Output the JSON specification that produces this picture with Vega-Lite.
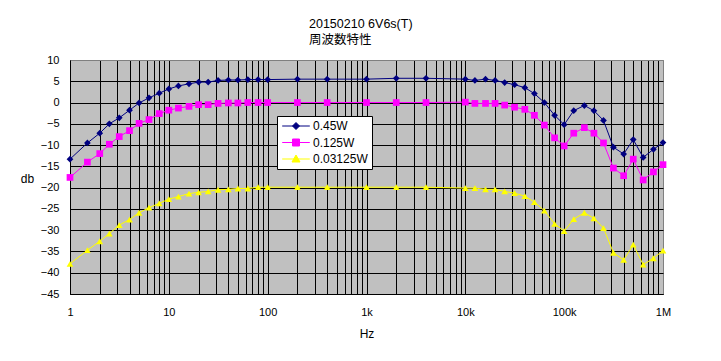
{
"$schema": "https://vega.github.io/schema/vega-lite/v6.json",
"width": 593, "height": 234,
"autosize": {"type": "none"},
"padding": {"left": 70, "top": 60, "right": 58, "bottom": 67},
"background": "white",
"title": {"text": ["20150210 6V6s(T)", "周波数特性"], "fontSize": 12.5, "font": "Liberation Sans, Noto Sans CJK JP", "fontWeight": "normal", "anchor": "middle", "align": "left", "frame": "group", "offset": 8, "lineHeight": 15.5, "dx": -57.5, "color": "black"},
"config": {"view": {"fill": "#C0C0C0", "stroke": "#808080", "strokeWidth": 1}, "font": "Liberation Sans"},
"resolve": {"legend": {"color": "independent", "shape": "independent"}},
"data": {"values": [
{"f":1,"db":-13.3,"s":"0.45W"},{"f":1.5,"db":-9.5,"s":"0.45W"},{"f":2,"db":-7.2,"s":"0.45W"},{"f":2.5,"db":-5.0,"s":"0.45W"},{"f":3.15,"db":-3.6,"s":"0.45W"},{"f":4,"db":-1.8,"s":"0.45W"},{"f":5,"db":-0.1,"s":"0.45W"},{"f":6.3,"db":1.1,"s":"0.45W"},{"f":8,"db":2.2,"s":"0.45W"},{"f":10,"db":3.2,"s":"0.45W"},{"f":12.5,"db":3.9,"s":"0.45W"},{"f":16,"db":4.4,"s":"0.45W"},{"f":20,"db":4.8,"s":"0.45W"},{"f":25,"db":4.8,"s":"0.45W"},{"f":31.5,"db":5.2,"s":"0.45W"},{"f":40,"db":5.3,"s":"0.45W"},{"f":50,"db":5.3,"s":"0.45W"},{"f":63,"db":5.4,"s":"0.45W"},{"f":80,"db":5.4,"s":"0.45W"},{"f":100,"db":5.4,"s":"0.45W"},
{"f":200,"db":5.5,"s":"0.45W"},{"f":400,"db":5.5,"s":"0.45W"},{"f":1000,"db":5.5,"s":"0.45W"},{"f":2000,"db":5.7,"s":"0.45W"},{"f":4000,"db":5.7,"s":"0.45W"},
{"f":10000,"db":5.5,"s":"0.45W"},{"f":12500,"db":5.2,"s":"0.45W"},{"f":16000,"db":5.5,"s":"0.45W"},{"f":20000,"db":5.2,"s":"0.45W"},{"f":25000,"db":4.7,"s":"0.45W"},{"f":31500,"db":4.2,"s":"0.45W"},{"f":40000,"db":3.5,"s":"0.45W"},{"f":50000,"db":2.1,"s":"0.45W"},{"f":63000,"db":0,"s":"0.45W"},{"f":80000,"db":-3.0,"s":"0.45W"},{"f":100000,"db":-5.2,"s":"0.45W"},{"f":125000,"db":-1.9,"s":"0.45W"},{"f":160000,"db":-0.7,"s":"0.45W"},{"f":200000,"db":-1.9,"s":"0.45W"},{"f":250000,"db":-4.2,"s":"0.45W"},{"f":315000,"db":-10.5,"s":"0.45W"},{"f":400000,"db":-12.1,"s":"0.45W"},{"f":500000,"db":-8.7,"s":"0.45W"},{"f":630000,"db":-12.9,"s":"0.45W"},{"f":800000,"db":-11.0,"s":"0.45W"},{"f":1000000,"db":-9.4,"s":"0.45W"},
{"f":1,"db":-17.6,"s":"0.125W"},{"f":1.5,"db":-14.0,"s":"0.125W"},{"f":2,"db":-12.0,"s":"0.125W"},{"f":2.5,"db":-9.8,"s":"0.125W"},{"f":3.15,"db":-8.0,"s":"0.125W"},{"f":4,"db":-6.6,"s":"0.125W"},{"f":5,"db":-4.9,"s":"0.125W"},{"f":6.3,"db":-4.0,"s":"0.125W"},{"f":8,"db":-2.6,"s":"0.125W"},{"f":10,"db":-1.8,"s":"0.125W"},{"f":12.5,"db":-1.3,"s":"0.125W"},{"f":16,"db":-0.9,"s":"0.125W"},{"f":20,"db":-0.5,"s":"0.125W"},{"f":25,"db":-0.5,"s":"0.125W"},{"f":31.5,"db":-0.2,"s":"0.125W"},{"f":40,"db":-0.1,"s":"0.125W"},{"f":50,"db":-0.1,"s":"0.125W"},{"f":63,"db":0,"s":"0.125W"},{"f":80,"db":0,"s":"0.125W"},{"f":100,"db":0,"s":"0.125W"},
{"f":200,"db":0,"s":"0.125W"},{"f":400,"db":0,"s":"0.125W"},{"f":1000,"db":0,"s":"0.125W"},{"f":2000,"db":0,"s":"0.125W"},{"f":4000,"db":0,"s":"0.125W"},
{"f":10000,"db":0.1,"s":"0.125W"},{"f":12500,"db":-0.2,"s":"0.125W"},{"f":16000,"db":-0.2,"s":"0.125W"},{"f":20000,"db":-0.2,"s":"0.125W"},{"f":25000,"db":-0.6,"s":"0.125W"},{"f":31500,"db":-1.1,"s":"0.125W"},{"f":40000,"db":-1.6,"s":"0.125W"},{"f":50000,"db":-3.0,"s":"0.125W"},{"f":63000,"db":-5.3,"s":"0.125W"},{"f":80000,"db":-8.3,"s":"0.125W"},{"f":100000,"db":-10.2,"s":"0.125W"},{"f":125000,"db":-7.2,"s":"0.125W"},{"f":160000,"db":-5.9,"s":"0.125W"},{"f":200000,"db":-7.2,"s":"0.125W"},{"f":250000,"db":-9.5,"s":"0.125W"},{"f":315000,"db":-15.4,"s":"0.125W"},{"f":400000,"db":-17.2,"s":"0.125W"},{"f":500000,"db":-13.3,"s":"0.125W"},{"f":630000,"db":-18.2,"s":"0.125W"},{"f":800000,"db":-16.3,"s":"0.125W"},{"f":1000000,"db":-14.6,"s":"0.125W"},
{"f":1,"db":-37.9,"s":"0.03125W"},{"f":1.5,"db":-34.7,"s":"0.03125W"},{"f":2,"db":-32.6,"s":"0.03125W"},{"f":2.5,"db":-30.8,"s":"0.03125W"},{"f":3.15,"db":-28.8,"s":"0.03125W"},{"f":4,"db":-27.5,"s":"0.03125W"},{"f":5,"db":-25.9,"s":"0.03125W"},{"f":6.3,"db":-24.7,"s":"0.03125W"},{"f":8,"db":-23.7,"s":"0.03125W"},{"f":10,"db":-22.7,"s":"0.03125W"},{"f":12.5,"db":-22.1,"s":"0.03125W"},{"f":16,"db":-21.4,"s":"0.03125W"},{"f":20,"db":-21.1,"s":"0.03125W"},{"f":25,"db":-20.9,"s":"0.03125W"},{"f":31.5,"db":-20.5,"s":"0.03125W"},{"f":40,"db":-20.4,"s":"0.03125W"},{"f":50,"db":-20.2,"s":"0.03125W"},{"f":63,"db":-20.2,"s":"0.03125W"},{"f":80,"db":-19.9,"s":"0.03125W"},{"f":100,"db":-19.9,"s":"0.03125W"},
{"f":200,"db":-19.9,"s":"0.03125W"},{"f":400,"db":-19.9,"s":"0.03125W"},{"f":1000,"db":-19.9,"s":"0.03125W"},{"f":2000,"db":-19.9,"s":"0.03125W"},{"f":4000,"db":-19.9,"s":"0.03125W"},
{"f":10000,"db":-20.1,"s":"0.03125W"},{"f":12500,"db":-20.1,"s":"0.03125W"},{"f":16000,"db":-20.4,"s":"0.03125W"},{"f":20000,"db":-20.4,"s":"0.03125W"},{"f":25000,"db":-20.9,"s":"0.03125W"},{"f":31500,"db":-21.3,"s":"0.03125W"},{"f":40000,"db":-22.0,"s":"0.03125W"},{"f":50000,"db":-23.4,"s":"0.03125W"},{"f":63000,"db":-25.4,"s":"0.03125W"},{"f":80000,"db":-28.5,"s":"0.03125W"},{"f":100000,"db":-30.2,"s":"0.03125W"},{"f":125000,"db":-27.4,"s":"0.03125W"},{"f":160000,"db":-25.9,"s":"0.03125W"},{"f":200000,"db":-27.2,"s":"0.03125W"},{"f":250000,"db":-29.5,"s":"0.03125W"},{"f":315000,"db":-35.3,"s":"0.03125W"},{"f":400000,"db":-37.0,"s":"0.03125W"},{"f":500000,"db":-33.4,"s":"0.03125W"},{"f":630000,"db":-38.1,"s":"0.03125W"},{"f":800000,"db":-36.6,"s":"0.03125W"},{"f":1000000,"db":-34.8,"s":"0.03125W"}
]},
"encoding": {
  "x": {"field": "f", "type": "quantitative", "scale": {"type": "log", "domain": [1, 1000000]},
    "axis": {"values": [1,2,3,4,5,6,7,8,9,10,20,30,40,50,60,70,80,90,100,200,300,400,500,600,700,800,900,1000,2000,3000,4000,5000,6000,7000,8000,9000,10000,20000,30000,40000,50000,60000,70000,80000,90000,100000,200000,300000,400000,500000,600000,700000,800000,900000,1000000],
      "labelExpr": "datum.value==1?'1':datum.value==10?'10':datum.value==100?'100':datum.value==1000?'1k':datum.value==10000?'10k':datum.value==100000?'100k':datum.value==1000000?'1M':''",
      "grid": true, "gridColor": {"condition": {"test": "datum.value == 1000000", "value": "#808080"}, "value": "black"}, "gridWidth": 1, "gridOpacity": 1,
      "ticks": false, "domainColor": "black", "domainWidth": 1, "labelFontSize": 11, "labelColor": "black", "labelPadding": 12,
      "labelFlush": false, "labelOverlap": false, "labelBound": false,
      "title": "Hz", "titleFontSize": 12, "titleFontWeight": "normal", "titleColor": "black", "titlePadding": 11}},
  "y": {"field": "db", "type": "quantitative", "scale": {"domain": [-45, 10], "nice": false, "zero": false},
    "axis": {"values": [-45,-40,-35,-30,-25,-20,-15,-10,-5,0,5,10],
      "grid": true, "gridColor": {"condition": {"test": "datum.value == 10", "value": "#808080"}, "value": "black"}, "gridWidth": 1, "gridOpacity": 1,
      "ticks": false, "domainColor": "black", "domainWidth": 1, "labelFontSize": 11, "labelColor": "black", "labelPadding": 11,
      "title": "db", "titleAngle": 0, "titleX": -43, "titleY": 118, "titleAlign": "center", "titleBaseline": "middle",
      "titleFontSize": 12, "titleFontWeight": "normal", "titleColor": "black"}}
},
"layer": [
  {"mark": {"type": "line", "strokeWidth": 1},
   "encoding": {"color": {"field": "s", "type": "nominal", "scale": {"domain": ["0.45W", "0.125W", "0.03125W"], "range": ["#000080", "#FF00FF", "#FFFF00"]}, "legend": null}}},
  {"mark": {"type": "point", "filled": true, "size": 45, "opacity": 1},
   "encoding": {"color": {"field": "s", "type": "nominal", "legend": null},
     "shape": {"field": "s", "type": "nominal", "scale": {"domain": ["0.45W", "0.125W", "0.03125W"], "range": ["diamond", "square", "triangle-up"]}, "legend": null}}},
  {"mark": {"type": "point", "filled": true, "size": 1, "opacity": 0},
   "encoding": {"color": {"field": "s", "type": "nominal",
    "legend": {"title": null, "orient": "none", "legendX": 207, "legendY": 56, "fillColor": "white", "strokeColor": "black",
      "padding": 4, "labelFontSize": 12, "labelColor": "black", "symbolSize": 100, "symbolOpacity": 1, "symbolStrokeWidth": 1, "symbolOffset": 9, "labelOffset": 11, "rowPadding": 4.5,
      "encode": {"symbols": {"update": {
        "shape": {"signal": "datum.value=='0.45W'?'M-2.76,0H2.76M-0.7,0L0,-0.7L0.7,0L0,0.7Z':datum.value=='0.125W'?'M-2.76,0H2.76M-0.7,-0.7H0.7V0.7H-0.7Z':'M-2.76,0H2.76M-0.8,0.6L0,-0.8L0.8,0.6Z'"},
        "fill": {"scale": "color", "field": "value"},
        "stroke": {"scale": "color", "field": "value"},
        "strokeWidth": {"value": 1},
        "size": {"value": 100},
        "opacity": {"value": 1}}}}}}}}
]
}
